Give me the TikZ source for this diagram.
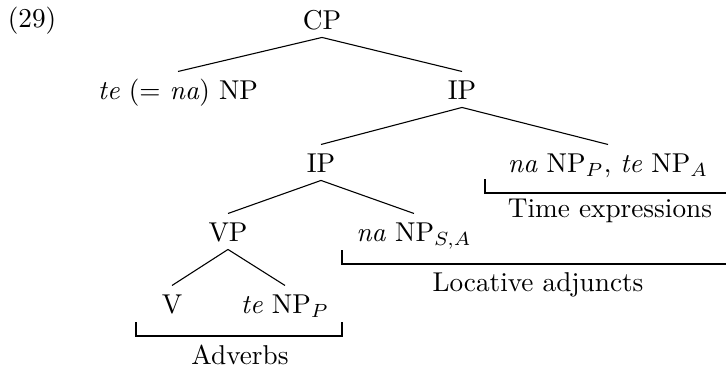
\documentclass[tikz,border=0pt]{standalone}
\begin{document}
\begin{tikzpicture}[x=0.367pt,y=-0.367pt,
  tn/.style={inner sep=0pt, text height=9.9pt, text depth=2.9pt, anchor=base},
  lbl/.style={inner sep=0pt, anchor=base},
  edge/.style={line width=0.4pt},
  brk/.style={line width=0.5pt}]
\useasboundingbox (0,0) rectangle (726,369);
% labels and tree nodes
\node[lbl] (ex) at (32,27) {(29)};
\node[tn] (cp) at (322,29) {CP};
\node[tn] (te) at (178,99) {\textit{te} (= \textit{na}) NP};
\node[tn] (ip1) at (462,99) {IP};
\node[tn] (ip2) at (321,172) {IP};
\node[tn] (tm) at (608,172) {\textit{na} NP$_P$, \textit{te} NP$_A$};
\node[tn] (vp) at (228,241) {VP};
\node[tn] (loc) at (414,241) {\textit{na} NP$_{S,A}$};
\node[tn] (v) at (172,313) {V};
\node[tn] (tep) at (285,313) {\textit{te} NP$_P$};
% edges
\draw[edge] (cp.south) -- (te.north);
\draw[edge] (cp.south) -- (ip1.north);
\draw[edge] (ip1.south) -- (ip2.north);
\draw[edge] (ip1.south) -- (tm.north);
\draw[edge] (ip2.south) -- (vp.north);
\draw[edge] (ip2.south) -- (loc.north);
\draw[edge] (vp.south) -- (v.north);
\draw[edge] (vp.south) -- (tep.north);
% brackets
\coordinate (ta) at (485,179);
\coordinate (tb) at (485,193);
\coordinate (tc) at (732,193);
\draw[brk] (ta) -- (tb) -- (tc);
\node[lbl] (tlab) at (610,217) {Time expressions};
\coordinate (la) at (342,250);
\coordinate (lb) at (342,264);
\coordinate (lc) at (732,264);
\draw[brk] (la) -- (lb) -- (lc);
\node[lbl] (llab) at (538,291) {Locative adjuncts};
\coordinate (aa) at (136,322);
\coordinate (ab) at (136,336);
\coordinate (ac) at (342,336);
\coordinate (ad) at (342,322);
\draw[brk] (aa) -- (ab) -- (ac) -- (ad);
\node[lbl] (alab) at (240,364) {Adverbs};
\end{tikzpicture}
\end{document}
